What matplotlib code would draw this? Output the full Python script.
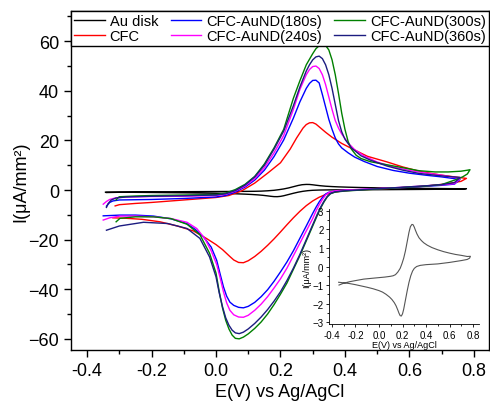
import matplotlib
matplotlib.use("Agg")
import matplotlib.pyplot as plt
from matplotlib.ticker import MultipleLocator

plt.rcParams['font.family'] = ['Liberation Sans', 'DejaVu Sans']

# Au disk (used in main plot and in the inset)
au_e = [-0.34, -0.3, -0.25, -0.2, -0.13, -0.05, 0.0, 0.05, 0.096, 0.12, 0.14, 0.16, 0.18,
        0.195, 0.21, 0.225, 0.24, 0.255, 0.267, 0.28, 0.29, 0.3, 0.31, 0.323, 0.34, 0.36,
        0.38, 0.41, 0.45, 0.5, 0.55, 0.6, 0.65, 0.7, 0.75, 0.777,
        0.77, 0.75, 0.7, 0.65, 0.6, 0.55, 0.5, 0.45, 0.4, 0.35, 0.32, 0.3, 0.285, 0.27,
        0.255, 0.24, 0.225, 0.21, 0.2, 0.19, 0.18, 0.17, 0.16, 0.145, 0.13, 0.11, 0.09,
        0.06, 0.03, 0.0, -0.05, -0.1, -0.15, -0.2, -0.25, -0.3, -0.343]
au_i = [-1.0, -0.9, -0.82, -0.76, -0.68, -0.63, -0.6, -0.57, -0.53, -0.5, -0.44, -0.3, -0.1,
        0.15, 0.45, 0.85, 1.35, 1.85, 2.15, 2.27, 2.25, 2.12, 1.95, 1.75, 1.55, 1.4,
        1.28, 1.15, 1.02, 0.9, 0.8, 0.72, 0.65, 0.6, 0.54, 0.55,
        0.45, 0.38, 0.32, 0.27, 0.22, 0.18, 0.14, 0.12, 0.1, 0.06, 0.0, -0.1, -0.25, -0.5,
        -0.85, -1.3, -1.8, -2.3, -2.55, -2.67, -2.65, -2.52, -2.35, -2.12, -1.95, -1.78, -1.65,
        -1.5, -1.38, -1.3, -1.2, -1.12, -1.05, -0.98, -0.92, -0.88, -0.85]

# CFC
cfc_e = [-0.313, -0.3, -0.25, -0.2, -0.15, -0.1, -0.05, 0.0, 0.04, 0.08, 0.12, 0.16, 0.2,
         0.23, 0.25, 0.27, 0.28, 0.29, 0.3, 0.31, 0.32, 0.34, 0.36, 0.39, 0.426, 0.47,
         0.529, 0.58, 0.633, 0.7, 0.74, 0.777,
         0.76, 0.72, 0.68, 0.633, 0.58, 0.53, 0.48, 0.426, 0.39, 0.36, 0.34, 0.32, 0.3,
         0.28, 0.26, 0.24, 0.22, 0.2, 0.18, 0.16, 0.14, 0.12, 0.1, 0.085, 0.07, 0.055,
         0.043, 0.02, 0.0, -0.03, -0.07, -0.12, -0.174, -0.23, -0.277, -0.32]
cfc_i = [-6.4, -5.9, -5.4, -5.0, -4.5, -4.0, -3.5, -3.0, -2.2, -0.3, 2.8, 6.8, 11.0,
         16.5, 21.0, 25.0, 26.4, 27.1, 27.2, 26.6, 25.5, 23.3, 21.3, 18.8, 16.4, 13.6,
         11.4, 9.3, 7.5, 6.0, 5.3, 4.7,
         3.5, 2.6, 2.0, 1.4, 1.0, 0.6, 0.3, 0.0, -0.4, -1.0, -1.8, -2.9, -4.4,
         -6.3, -8.6, -11.2, -14.0, -16.9, -19.7, -22.3, -24.7, -26.8, -28.5, -29.3, -29.2, -28.2,
         -26.8, -24.0, -22.0, -19.5, -16.5, -14.5, -12.8, -11.8, -11.4, -11.2]

# CFC-AuND (180s)
s180_e = [-0.34, -0.33, -0.32, -0.3, -0.25, -0.2, -0.15, -0.1, -0.05, 0.0, 0.03, 0.06,
          0.09, 0.12, 0.15, 0.18, 0.21, 0.24, 0.26, 0.28, 0.29, 0.3, 0.31, 0.32, 0.33,
          0.34, 0.35, 0.36, 0.37, 0.38, 0.39, 0.41, 0.43, 0.46, 0.5, 0.55, 0.6, 0.65,
          0.7, 0.757,
          0.74, 0.7, 0.65, 0.6, 0.55, 0.5, 0.45, 0.4, 0.37, 0.35, 0.34, 0.33, 0.32, 0.31,
          0.3, 0.28, 0.26, 0.24, 0.22, 0.2, 0.18, 0.16, 0.14, 0.12, 0.1, 0.085, 0.07,
          0.055, 0.043, 0.033, 0.023, 0.013, 0.002, -0.015, -0.039, -0.065, -0.091,
          -0.14, -0.194, -0.25, -0.298, -0.35]
s180_i = [-6.5, -5.0, -4.4, -4.0, -3.9, -3.8, -3.6, -3.4, -3.1, -2.8, -2.2, -0.8,
          1.2, 4.0, 8.0, 13.5, 20.2, 29.0, 35.5, 41.0, 43.0, 44.2, 44.3, 43.2, 38.5,
          33.5, 28.5, 24.5, 21.0, 18.6, 17.0, 15.0, 13.3, 11.5, 9.5, 7.9, 6.8, 6.0,
          5.3, 4.3,
          2.4, 1.9, 1.5, 1.1, 0.8, 0.5, 0.2, -0.1, -0.4, -0.9, -1.6, -3.0, -4.8, -7.0,
          -9.4, -14.5, -19.5, -24.5, -29.0, -33.0, -36.8, -40.2, -43.0, -45.3, -46.9, -47.5, -47.3,
          -46.5, -45.2, -42.8, -39.0, -34.0, -28.3, -23.0, -18.9, -15.8, -13.5,
          -11.6, -10.5, -10.1, -10.1, -10.4]

# CFC-AuND (240s)
s240_e = [-0.35, -0.34, -0.33, -0.31, -0.28, -0.2, -0.1, 0.0, 0.03, 0.06, 0.09, 0.12,
          0.15, 0.18, 0.21, 0.24, 0.26, 0.28, 0.29, 0.3, 0.31, 0.32, 0.33, 0.34, 0.35,
          0.36, 0.37, 0.38, 0.39, 0.41, 0.43, 0.46, 0.5, 0.55, 0.6, 0.65, 0.7, 0.757,
          0.74, 0.7, 0.65, 0.6, 0.55, 0.5, 0.45, 0.4, 0.37, 0.35, 0.34, 0.33, 0.32, 0.31,
          0.3, 0.28, 0.26, 0.24, 0.22, 0.2, 0.18, 0.16, 0.14, 0.12, 0.1, 0.085, 0.07,
          0.055, 0.043, 0.033, 0.023, 0.013, 0.002, -0.015, -0.035, -0.06, -0.09, -0.14,
          -0.194, -0.25, -0.298, -0.33, -0.35]
s240_i = [-5.7, -4.6, -3.8, -3.1, -2.8, -2.6, -2.5, -2.2, -1.7, -0.4, 1.6, 4.6,
          9.0, 15.0, 22.0, 32.5, 40.5, 46.5, 48.6, 49.8, 50.0, 49.0, 46.5, 42.5, 37.5,
          32.5, 28.0, 25.0, 22.6, 19.0, 16.3, 13.7, 11.3, 9.3, 7.9, 6.9, 6.0, 4.7,
          2.6, 2.1, 1.7, 1.3, 0.9, 0.6, 0.3, 0.0, -0.3, -1.0, -2.0, -3.8, -6.0, -8.5,
          -11.5, -16.5, -21.5, -26.5, -31.5, -35.8, -39.5, -43.0, -46.0, -48.5, -50.5, -51.3, -51.2,
          -50.3, -48.5, -45.5, -41.0, -35.5, -30.0, -24.5, -19.5, -15.5, -13.0, -11.5,
          -10.8, -10.5, -10.5, -11.2, -12.1]

# CFC-AuND (300s)
s300_e = [-0.31, -0.305, -0.3, -0.25, -0.2, -0.1, 0.0, 0.03, 0.06, 0.09, 0.12, 0.15,
          0.18, 0.21, 0.24, 0.26, 0.28, 0.3, 0.31, 0.32, 0.33, 0.34, 0.35, 0.36, 0.37,
          0.38, 0.39, 0.4, 0.41, 0.42, 0.435, 0.45, 0.48, 0.53, 0.58, 0.63, 0.68, 0.72,
          0.76, 0.78, 0.788,
          0.78, 0.765, 0.74, 0.7, 0.65, 0.6, 0.55, 0.5, 0.45, 0.4, 0.37, 0.355, 0.345,
          0.335, 0.325, 0.315, 0.3, 0.28, 0.26, 0.24, 0.22, 0.2, 0.18, 0.16, 0.14, 0.12,
          0.1, 0.085, 0.072, 0.06, 0.05, 0.04, 0.03, 0.02, 0.01, 0.0, -0.02, -0.05,
          -0.09, -0.14, -0.194, -0.25, -0.298, -0.31]
s300_i = [-4.0, -3.2, -2.7, -2.4, -2.2, -2.0, -1.8, -1.2, 0.2, 2.3, 5.5, 10.5,
          17.0, 24.5, 37.0, 44.0, 50.5, 55.0, 57.0, 58.2, 58.7, 58.3, 56.5, 52.5, 46.5,
          39.0, 31.0, 24.5, 19.5, 16.5, 14.0, 12.7, 11.4, 10.2, 9.0, 7.8, 7.3, 7.3,
          7.6, 8.0, 8.2,
          6.5, 5.3, 4.0, 2.2, 1.6, 1.2, 0.8, 0.4, 0.0, -0.4, -0.8, -1.5, -2.8,
          -4.8, -7.2, -10.0, -14.5, -20.5, -26.5, -32.0, -37.5, -42.0, -46.2, -50.0, -53.2, -55.8,
          -58.0, -59.3, -60.0, -59.8, -58.5, -56.0, -52.5, -47.5, -41.0, -33.5, -25.5, -18.0,
          -13.8, -11.5, -10.8, -10.8, -11.4, -12.8]

# CFC-AuND (360s)
s360_e = [-0.34, -0.335, -0.325, -0.31, -0.28, -0.2, -0.1, 0.0, 0.03, 0.06, 0.09, 0.12,
          0.15, 0.18, 0.21, 0.24, 0.26, 0.28, 0.29, 0.3, 0.31, 0.32, 0.33, 0.34, 0.35,
          0.36, 0.37, 0.38, 0.39, 0.4, 0.42, 0.45, 0.48, 0.53, 0.58, 0.63, 0.7, 0.757,
          0.74, 0.7, 0.65, 0.6, 0.55, 0.5, 0.45, 0.4, 0.37, 0.355, 0.345, 0.335, 0.325,
          0.315, 0.3, 0.28, 0.26, 0.24, 0.22, 0.2, 0.18, 0.16, 0.14, 0.12, 0.1, 0.085,
          0.072, 0.06, 0.05, 0.04, 0.03, 0.02, 0.01, 0.0, -0.02, -0.05, -0.09, -0.15,
          -0.225, -0.3, -0.34]
s360_i = [-7.0, -5.5, -4.0, -3.2, -2.8, -2.5, -2.3, -2.0, -1.5, -0.2, 2.0, 5.3,
          10.0, 16.5, 23.8, 34.0, 41.5, 48.0, 50.5, 52.5, 53.7, 54.0, 53.0, 50.5, 46.5,
          41.0, 34.5, 28.0, 23.5, 20.5, 17.0, 13.8, 12.0, 9.7, 8.0, 6.7, 5.7, 5.1,
          3.0, 2.2, 1.7, 1.3, 0.9, 0.5, 0.1, -0.3, -0.7, -1.4, -2.6, -4.5, -6.8,
          -9.5, -14.0, -20.0, -26.0, -31.5, -36.5, -41.0, -44.8, -48.2, -51.2, -53.8, -56.0, -57.3,
          -57.9, -57.6, -56.5, -54.5, -51.5, -47.0, -41.5, -35.0, -27.0, -19.5, -15.5, -13.5,
          -13.0, -14.5, -16.2]

series = [
    ("Au disk", au_e, au_i, "black"),
    ("CFC", cfc_e, cfc_i, "#ff0000"),
    ("CFC-AuND(180s)", s180_e, s180_i, "#0000ff"),
    ("CFC-AuND(240s)", s240_e, s240_i, "#ff00ff"),
    ("CFC-AuND(300s)", s300_e, s300_i, "#008000"),
    ("CFC-AuND(360s)", s360_e, s360_i, "#1c1c80"),
]

fig = plt.figure(figsize=(4.9, 4.14), dpi=100)
ax = fig.add_axes([71 / 490, 63 / 414, 418 / 490, 339 / 414])

for label, e, i, c in series:
    ax.plot(e, i, color=c, lw=1.0, label=label)

ax.set_xlim(-0.45, 0.847)
ax.set_ylim(-64.5, 72.2)
ax.xaxis.set_major_locator(MultipleLocator(0.2))
ax.xaxis.set_minor_locator(MultipleLocator(0.1))
ax.yaxis.set_major_locator(MultipleLocator(20))
ax.yaxis.set_minor_locator(MultipleLocator(10))
ax.tick_params(which='both', direction='out', top=False, right=False, labelsize=13)
ax.tick_params(which='major', length=5, width=1)
ax.tick_params(which='minor', length=3, width=1)
ax.set_xticklabels([f"{v:.1f}" for v in ax.get_xticks()])
ax.set_xlabel("E(V) vs Ag/AgCl", fontsize=13, labelpad=3)
ax.set_ylabel("I(μA/mm²)", fontsize=13, labelpad=-1)
for s in ax.spines.values():
    s.set_linewidth(1.0)

leg = ax.legend(loc='upper left', bbox_to_anchor=(0, 1, 1, 0), mode='expand', ncol=3,
                fontsize=10.5, handlelength=2.1, handletextpad=0.35, borderaxespad=0,
                labelspacing=0.05, borderpad=0.2, columnspacing=0.8,
                fancybox=False, framealpha=1, edgecolor='black')
leg.get_frame().set_linewidth(1.0)

# inset with the Au disk curve alone
ins = fig.add_axes([329 / 490, 89 / 414, 150 / 490, 115 / 414])
ins.plot(au_e, au_i, color='#555555', lw=0.8)
ins.set_xlim(-0.425, 0.85)
ins.set_ylim(-3.1, 3.1)
ins.spines['top'].set_visible(False)
ins.spines['right'].set_visible(False)
ins.xaxis.set_major_locator(MultipleLocator(0.2))
ins.xaxis.set_minor_locator(MultipleLocator(0.1))
ins.yaxis.set_major_locator(MultipleLocator(1))
ins.yaxis.set_minor_locator(MultipleLocator(0.5))
ins.tick_params(which='both', direction='out', labelsize=7, pad=1.5, width=0.6)
ins.tick_params(which='major', length=2.5)
ins.tick_params(which='minor', length=1.5)
ins.set_xticklabels([f"{v:.1f}" for v in ins.get_xticks()])
ins.set_xlabel("E(V) vs Ag/AgCl", fontsize=6.5, labelpad=0)
ins.set_ylabel("I(μA/mm²)", fontsize=6.5, labelpad=1)
for s in ins.spines.values():
    s.set_linewidth(0.6)
ins.patch.set_alpha(0)

fig.savefig("out.png", dpi=100)
